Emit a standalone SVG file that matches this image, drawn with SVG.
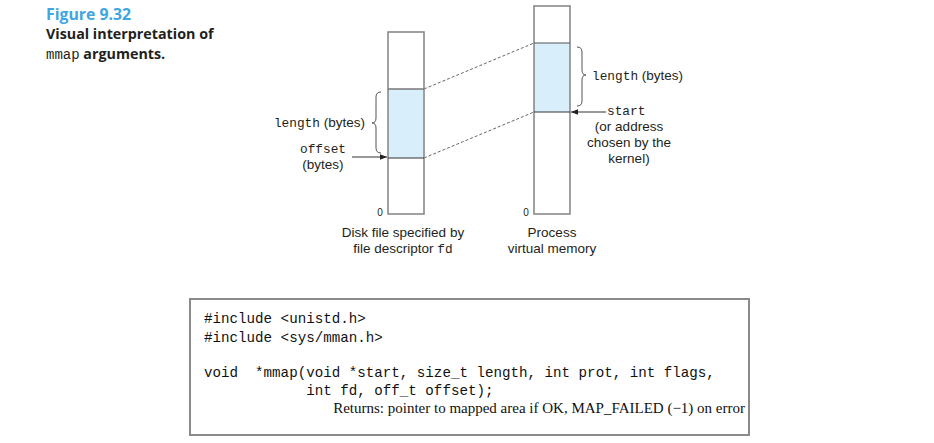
<svg xmlns="http://www.w3.org/2000/svg" width="934" height="443" viewBox="0 0 934 443">
<style>
.sans{font-family:"Liberation Sans",Arial,sans-serif;font-size:13.5px;fill:#231f20}
.mono{font-family:"Liberation Mono","Courier New",monospace;font-size:12.8px;fill:#231f20}
.code{font-family:"Liberation Mono","Courier New",monospace;font-size:14.2px;fill:#111}
.serif{font-family:"Liberation Serif","Times New Roman",serif;font-size:15px;fill:#111}
.head{font-family:"Open Sans","Liberation Sans",sans-serif;font-weight:bold;font-size:14.3px;fill:#231f20}
.col{fill:none;stroke:#8a8a8a;stroke-width:1.6}
.blue{fill:#d8effb}
.dash{stroke:#555;stroke-width:0.9;stroke-dasharray:3,2;fill:none}
.brace{fill:none;stroke:#555;stroke-width:1}
.arr{stroke:#333;stroke-width:1;fill:none}
.zero{font-family:"Liberation Sans",Arial,sans-serif;font-size:10px;fill:#231f20}
</style>
<defs>
<marker id="ah" viewBox="0 0 10 10" refX="10" refY="5" markerWidth="7" markerHeight="7" orient="auto" markerUnits="userSpaceOnUse">
<path d="M0,1 L10,5 L0,9 z" fill="#222"/>
</marker>
</defs>
<g id="caption">
<text x="46" y="19.5" font-family="'Open Sans','Liberation Sans',sans-serif" font-weight="bold" font-size="15.8" fill="#3fa6df">Figure 9.32</text>
<text class="head" x="46" y="39">Visual interpretation of</text>
<text class="head" x="46" y="58.5"><tspan font-family="'Liberation Mono',monospace" font-weight="normal" font-size="14">mmap</tspan> arguments.</text>
</g>
<g id="connectors">
<line class="dash" x1="424" y1="89" x2="534" y2="43"/>
<line class="dash" x1="424" y1="158" x2="534" y2="112"/>
<line class="arr" x1="352" y1="157" x2="387" y2="157" marker-end="url(#ah)"/>
<line class="arr" x1="606" y1="112" x2="571" y2="112" marker-end="url(#ah)"/>
</g>
<g id="disk-file">
<rect class="blue" x="388" y="89" width="36" height="69"/>
<rect class="col" x="388" y="32" width="36" height="182"/>
<line x1="388" y1="89" x2="424" y2="89" stroke="#777" stroke-width="1.4"/>
<line x1="388" y1="158" x2="424" y2="158" stroke="#333" stroke-width="1.2"/>
<text class="zero" x="380" y="216" text-anchor="middle">0</text>
<path class="brace" d="M381,92 Q376,92 376,97 L376,118 Q376,123 372,123 Q376,123 376,128 L376,148 Q376,153 381,153"/>
<text x="365" y="127" text-anchor="end"><tspan class="mono">length</tspan><tspan class="sans"> (bytes)</tspan></text>
<text class="mono" x="323" y="153" text-anchor="middle">offset</text>
<text class="sans" x="323" y="169" text-anchor="middle">(bytes)</text>
<text class="sans" x="403" y="237" text-anchor="middle">Disk file specified by</text>
<text x="403" y="253" text-anchor="middle"><tspan class="sans">file descriptor </tspan><tspan class="mono">fd</tspan></text>
</g>
<g id="process-memory">
<rect class="blue" x="534" y="43" width="36" height="69"/>
<rect class="col" x="534" y="6" width="36" height="208"/>
<line x1="534" y1="43" x2="570" y2="43" stroke="#555" stroke-width="1.2"/>
<line x1="534" y1="112" x2="570" y2="112" stroke="#333" stroke-width="1.2"/>
<text class="zero" x="526" y="216" text-anchor="middle">0</text>
<path class="brace" d="M577,47 Q582,47 582,52 L582,70 Q582,75 586,75 Q582,75 582,80 L582,101 Q582,106 577,106"/>
<text x="592" y="80"><tspan class="mono">length</tspan><tspan class="sans"> (bytes)</tspan></text>
<text class="mono" x="607" y="115">start</text>
<text class="sans" x="629" y="131" text-anchor="middle">(or address</text>
<text class="sans" x="629" y="147" text-anchor="middle">chosen by the</text>
<text class="sans" x="629" y="163" text-anchor="middle">kernel)</text>
<text class="sans" x="552" y="237" text-anchor="middle">Process</text>
<text class="sans" x="552" y="253" text-anchor="middle">virtual memory</text>
</g>
<g id="code-box">
<rect x="190" y="299" width="559" height="136" fill="#fff" stroke="#8a8a8a" stroke-width="2"/>
<text class="code" x="204" y="322.5" xml:space="preserve">#include &lt;unistd.h&gt;</text>
<text class="code" x="204" y="342" xml:space="preserve">#include &lt;sys/mman.h&gt;</text>
<text class="code" x="204" y="376.5" xml:space="preserve">void  *mmap(void *start, size_t length, int prot, int flags,</text>
<text class="code" x="204" y="395" xml:space="preserve">            int fd, off_t offset);</text>
<text class="serif" x="745" y="413" text-anchor="end">Returns: pointer to mapped area if OK, MAP_FAILED (−1) on error</text>
</g>
</svg>
